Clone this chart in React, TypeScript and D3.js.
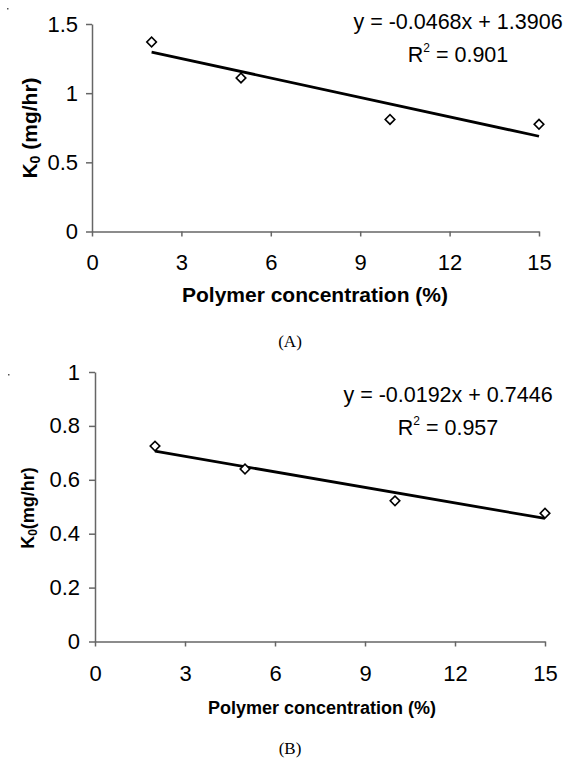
import { useEffect, useRef } from 'react';
import * as d3 from 'd3';

// polymer concentration (%) for both formulations
const concentration = [2, 5, 10, 15];
// release constant K0 (mg/hr)
const k0A = [1.37, 1.11, 0.81, 0.775];
const k0B = [0.725, 0.64, 0.522, 0.476];

const xTicks = [0, 3, 6, 9, 12, 15];
const yTicksA = [0, 0.5, 1, 1.5];
const yTicksB = [0, 0.2, 0.4, 0.6, 0.8, 1];

// linear fits [slope, intercept]
const fitA = [-0.0468, 1.3906];
const fitB = [-0.0192, 0.7446];
const eqA = 'y = -0.0468x + 1.3906';
const eqB = 'y = -0.0192x + 0.7446';
const r2A = '0.901';
const r2B = '0.957';

const SANS = '"Liberation Sans", Arial, Helvetica, sans-serif';
const SERIF = '"Liberation Serif", "Times New Roman", serif';
const AXIS = '#666';

function drawPanel(svg, o) {
    const x = d3.scaleLinear().domain([0, 15]).range([o.left, o.right]);
    const y = d3.scaleLinear().domain([0, o.yMax]).range([o.bottom, o.top]);

    const yAxis = svg.append('g')
        .attr('transform', `translate(${o.left},0)`)
        .call(d3.axisLeft(y).tickValues(o.yTicks).tickSize(6).tickSizeOuter(0)
            .tickPadding(o.yPad).tickFormat(d3.format('')));
    const xAxis = svg.append('g')
        .attr('transform', `translate(0,${o.bottom})`)
        .call(d3.axisBottom(x).tickValues(xTicks).tickSize(5).tickSizeOuter(0)
            .tickPadding(o.xPad));

    [yAxis, xAxis].forEach(g => {
        g.select('.domain').attr('stroke', AXIS).attr('stroke-width', 1.5);
        g.selectAll('line').attr('stroke', AXIS).attr('stroke-width', 1.5);
        g.selectAll('text')
            .attr('fill', '#000')
            .style('font-family', SANS)
            .style('font-size', '22px');
    });

    // trend line
    const line = d3.line().x(d => x(d)).y(d => y(o.fit[0] * d + o.fit[1]));
    svg.append('path')
        .attr('d', line([concentration[0], concentration[concentration.length - 1]]))
        .attr('stroke', '#000')
        .attr('stroke-width', 2.8)
        .attr('fill', 'none');

    // diamond markers
    const diamond = d3.symbol().type(d3.symbolSquare).size(46);
    svg.selectAll(null)
        .data(o.values)
        .enter()
        .append('path')
        .attr('d', diamond)
        .attr('transform', (d, i) => `translate(${x(concentration[i])},${y(d)}) rotate(45)`)
        .attr('fill', '#fff')
        .attr('stroke', '#000')
        .attr('stroke-width', 1.6);

    // equation + R²
    svg.append('text')
        .attr('x', o.eqX).attr('y', o.eqY)
        .attr('text-anchor', 'middle')
        .style('font-family', SANS).style('font-size', '21.5px')
        .text(o.eq);
    const r = svg.append('text')
        .attr('x', o.eqX).attr('y', o.eqY + 33)
        .attr('text-anchor', 'middle')
        .style('font-family', SANS).style('font-size', '21.5px');
    r.append('tspan').text('R');
    r.append('tspan').attr('dy', -10).style('font-size', '12px').text('2');
    r.append('tspan').attr('dy', 10).text(' = ' + o.r2);

    // axis titles
    const yt = svg.append('text')
        .attr('transform', `translate(${o.yTitleX},${o.yTitleY}) rotate(-90)`)
        .attr('text-anchor', 'middle')
        .style('font-family', SANS).style('font-weight', 'bold')
        .style('font-size', o.yTitleSize + 'px');
    yt.append('tspan').text('K');
    yt.append('tspan').attr('dy', 3).style('font-size', Math.round(o.yTitleSize * 0.65) + 'px').text('0');
    yt.append('tspan').attr('dy', -3).text(o.yTitleGap + '(mg/hr)');

    svg.append('text')
        .attr('x', o.xTitleX).attr('y', o.xTitleY)
        .attr('text-anchor', 'middle')
        .style('font-family', SANS).style('font-weight', 'bold')
        .style('font-size', o.xTitleSize + 'px')
        .text('Polymer concentration (%)');

    svg.append('text')
        .attr('x', 290).attr('y', o.captionY)
        .attr('text-anchor', 'middle')
        .style('font-family', SERIF).style('font-size', '17px')
        .text(o.caption);

    svg.append('rect')
        .attr('x', o.dotX).attr('y', o.dotY)
        .attr('width', 1.5).attr('height', 1.5)
        .attr('fill', '#555');
}

export default function App() {
    const ref = useRef(null);

    useEffect(() => {
        const svg = d3.select(ref.current);
        svg.selectAll('*').remove();

        drawPanel(svg, {
            left: 92, right: 539, top: 24, bottom: 231.5, yMax: 1.5,
            yTicks: yTicksA, values: k0A, fit: fitA, eq: eqA, r2: r2A,
            yPad: 8, xPad: 18, eqX: 458, eqY: 29,
            yTitleX: 37, yTitleY: 128, yTitleSize: 21, yTitleGap: ' ',
            xTitleX: 315, xTitleY: 302, xTitleSize: 21,
            caption: '(A)', captionY: 347, dotX: 7, dotY: 8,
        });
        drawPanel(svg, {
            left: 95, right: 545, top: 372, bottom: 641.5, yMax: 1,
            yTicks: yTicksB, values: k0B, fit: fitB, eq: eqB, r2: r2B,
            yPad: 9, xPad: 19, eqX: 448, eqY: 402,
            yTitleX: 34, yTitleY: 508, yTitleSize: 18, yTitleGap: '',
            xTitleX: 322, xTitleY: 714, xTitleSize: 18,
            caption: '(B)', captionY: 754, dotX: 8, dotY: 374,
        });
    }, []);

    return (
        <svg
            ref={ref}
            width={568}
            height={760}
            style={{ position: 'absolute', left: 0, top: 0, background: '#fff' }}
        />
    );
}
